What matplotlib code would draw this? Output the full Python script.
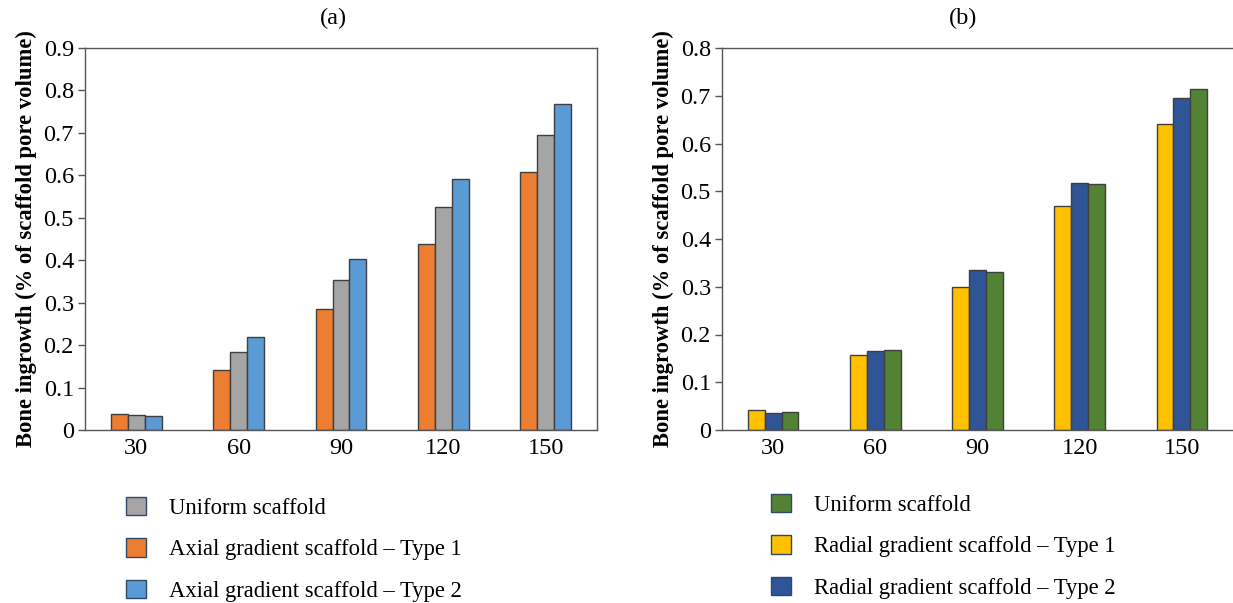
import numpy as np
import matplotlib
matplotlib.use("Agg")
import matplotlib.pyplot as plt
from matplotlib.patches import Patch

plt.rcParams['font.family'] = ['Liberation Serif', 'DejaVu Serif']

# data
days = ['30', '60', '90', '120', '150']

axial_type1 = [0.037, 0.141, 0.285, 0.439, 0.608]
uniform_a = [0.035, 0.183, 0.353, 0.525, 0.695]
axial_type2 = [0.034, 0.218, 0.402, 0.591, 0.768]

radial_type1 = [0.042, 0.158, 0.300, 0.470, 0.641]
radial_type2 = [0.035, 0.165, 0.336, 0.518, 0.695]
uniform_b = [0.037, 0.168, 0.331, 0.515, 0.714]

ylabel = 'Bone ingrowth (% of scaffold pore volume)'

fig = plt.figure(figsize=(12.33, 6.03), dpi=100)
ax1 = fig.add_axes([85/1233, 1-430/603, (597-85)/1233, (430-48)/603])
ax2 = fig.add_axes([722/1233, 1-430/603, (1233-722)/1233, (430-48)/603])

x = np.arange(len(days))
w = 0.165
edge = '#3f3f3f'


def draw_panel(ax, series, colors, ymax):
    for i, (vals, c) in enumerate(zip(series, colors)):
        ax.bar(x + (i - 1) * w, vals, w, color=c, edgecolor=edge, linewidth=1.0, zorder=2)
    ax.set_xlim(-0.5, len(days) - 0.5)
    ax.set_ylim(0, ymax)
    ax.set_yticks(np.round(np.arange(0, ymax + 0.001, 0.1), 1))
    ax.set_yticklabels(['0'] + ['%.1f' % v for v in np.arange(0.1, ymax + 0.001, 0.1)])
    ax.set_xticks(x)
    ax.set_xticklabels(days)
    ax.tick_params(axis='y', direction='out', length=5, width=1, color='#555555', labelsize=17.5, pad=3)
    ax.tick_params(axis='x', length=0, labelsize=17.5, pad=6)
    for s in ax.spines.values():
        s.set_color('#555555')
        s.set_linewidth(1.0)
    ax.set_ylabel(ylabel, fontsize=16.3, fontweight='bold', labelpad=5)


draw_panel(ax1, [axial_type1, uniform_a, axial_type2], ['#ED7D31', '#A5A5A5', '#5B9BD5'], 0.9)
draw_panel(ax2, [radial_type1, radial_type2, uniform_b], ['#FFC000', '#2F5597', '#548235'], 0.8)
ax2.spines['right'].set_visible(False)

fig.text(333/1233, 1-18/603, '(a)', fontsize=17.5, ha='center', va='center')
fig.text(963/1233, 1-18/603, '(b)', fontsize=17.5, ha='center', va='center')

leg_edge = '#2E4A66'
h1 = [Patch(facecolor='#A5A5A5', edgecolor=leg_edge, label='Uniform scaffold'),
      Patch(facecolor='#ED7D31', edgecolor=leg_edge, label='Axial gradient scaffold – Type 1'),
      Patch(facecolor='#5B9BD5', edgecolor=leg_edge, label='Axial gradient scaffold – Type 2')]
h2 = [Patch(facecolor='#548235', edgecolor=leg_edge, label='Uniform scaffold'),
      Patch(facecolor='#FFC000', edgecolor=leg_edge, label='Radial gradient scaffold – Type 1'),
      Patch(facecolor='#2F5597', edgecolor=leg_edge, label='Radial gradient scaffold – Type 2')]

leg_kw = dict(loc='upper left', frameon=False, fontsize=16.3, borderpad=0, borderaxespad=0,
              handlelength=0.88, handleheight=0.88, handletextpad=1.0, labelspacing=0.85)
fig.legend(handles=h1, bbox_to_anchor=(126/1233, 1-497/603), **leg_kw)
fig.legend(handles=h2, bbox_to_anchor=(771/1233, 1-494/603), **leg_kw)

fig.savefig('out.png', dpi=100)
